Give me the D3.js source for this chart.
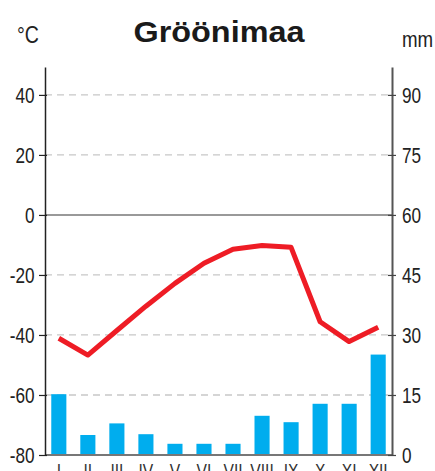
<!DOCTYPE html>
<html>
<head>
<meta charset="utf-8">
<script src="https://cdn.jsdelivr.net/npm/d3@7"></script>
<style>
  html, body { margin: 0; padding: 0; background: #fff; }
  svg { display: block; }
  text { font-family: "Liberation Sans", Arial, sans-serif; }
</style>
</head>
<body>
<svg id="chart" width="435" height="471"></svg>
<script>
// ---- data ----
const title = "Gröönimaa";
const months = ["I","II","III","IV","V","VI","VII","VIII","IX","X","XI","XII"];
const temperature = [-41.1, -46.7, -38.5, -30.4, -22.8, -16.1, -11.4, -10.2, -10.8, -35.6, -42.2, -37.4];
const precipitation = [15.2, 5.0, 7.9, 5.2, 2.8, 2.8, 2.8, 9.8, 8.2, 12.8, 12.8, 25.1];
const tempTicks = [-80, -60, -40, -20, 0, 20, 40];
const precTicks = [0, 15, 30, 45, 60, 75, 90];
const tempDomain = [-80, 49.3];
const precDomain = [0, 96.975];

// ---- layout ----
const svg = d3.select("#chart");
const mLeft = 45, mRight = 392, mBottom = 455, mTop = 67;
const sx = 0.78; // horizontal condensing of the label font

const x = d3.scaleBand().domain(months).range([mLeft, mRight]).paddingInner(0.48).paddingOuter(0.216);
const yT = d3.scaleLinear().domain(tempDomain).range([mBottom, mTop]);
const yP = d3.scaleLinear().domain(precDomain).range([mBottom, mTop]);

// gridlines
svg.append("g").selectAll("line")
  .data(tempTicks.filter(t => t !== 0 && t !== -80))
  .join("line")
  .attr("x1", mLeft).attr("x2", mRight)
  .attr("y1", d => yT(d)).attr("y2", d => yT(d))
  .attr("stroke", "#c8c8c8").attr("stroke-width", 1.3)
  .attr("stroke-dasharray", "7,5");

// zero line
svg.append("line")
  .attr("x1", mLeft).attr("x2", mRight)
  .attr("y1", yT(0)).attr("y2", yT(0))
  .attr("stroke", "#777").attr("stroke-width", 1.5);

// bars
svg.append("g").selectAll("rect")
  .data(months.map((m, i) => ({m, v: precipitation[i]})))
  .join("rect")
  .attr("x", d => x(d.m))
  .attr("width", x.bandwidth())
  .attr("y", d => yP(d.v))
  .attr("height", d => yP(0) - yP(d.v))
  .attr("fill", "#00adee");

// bottom baseline
svg.append("line")
  .attr("x1", mLeft).attr("x2", mRight)
  .attr("y1", yT(-80)).attr("y2", yT(-80))
  .attr("stroke", "#777").attr("stroke-width", 2);

// temperature line
const line = d3.line()
  .x((d, i) => x(months[i]) + x.bandwidth() / 2)
  .y(d => yT(d));
svg.append("path")
  .datum(temperature)
  .attr("d", line)
  .attr("fill", "none")
  .attr("stroke", "#ee1c25")
  .attr("stroke-width", 5)
  .attr("stroke-linejoin", "round");

// left axis
const axL = svg.append("g")
  .attr("transform", `translate(${mLeft},0)`)
  .call(d3.axisLeft(yT).tickValues(tempTicks).tickFormat(d => String(d))
    .tickSize(6).tickPadding(4).tickSizeOuter(0));
axL.select(".domain").attr("stroke", "#222").attr("stroke-width", 1.5);
axL.selectAll(".tick line").attr("stroke", "#222").attr("stroke-width", 1.2).attr("x2", -6).attr("x1", 2);
axL.selectAll(".tick text")
  .style("font-size", "22px").attr("fill", "#222").attr("dy", "0.36em")
  .attr("x", -10.5 / sx)
  .attr("transform", `scale(${sx},1)`);

// right axis
const axR = svg.append("g")
  .attr("transform", `translate(${mRight},0)`)
  .call(d3.axisRight(yP).tickValues(precTicks).tickFormat(d => String(d))
    .tickSize(4).tickPadding(6).tickSizeOuter(0));
axR.select(".domain").attr("stroke", "#555").attr("stroke-width", 2);
axR.selectAll(".tick line").attr("stroke", "#444").attr("stroke-width", 1.2).attr("x1", -4).attr("x2", 4);
axR.selectAll(".tick text")
  .style("font-size", "22px").attr("fill", "#222").attr("dy", "0.36em")
  .attr("x", 10 / sx)
  .attr("transform", `scale(${sx},1)`);

// month labels
svg.append("g").selectAll("text")
  .data(months)
  .join("text")
  .attr("x", d => (x(d) + x.bandwidth() / 2) / sx)
  .attr("y", 478)
  .attr("transform", `scale(${sx},1)`)
  .attr("text-anchor", "middle")
  .style("font-size", "20px")
  .attr("fill", "#333")
  .text(d => d);

// title and units
svg.append("text")
  .attr("x", 219).attr("y", 42)
  .attr("text-anchor", "middle")
  .style("font-weight", "bold")
  .style("font-size", "30px")
  .attr("textLength", 171).attr("lengthAdjust", "spacingAndGlyphs")
  .attr("fill", "#1a1a1a")
  .text(title);

svg.append("text")
  .attr("x", 17 / 0.85).attr("y", 43)
  .attr("transform", "scale(0.85,1)")
  .style("font-size", "23px").attr("fill", "#222")
  .text("°C");

svg.append("text")
  .attr("x", 402 / 0.85).attr("y", 47)
  .attr("transform", "scale(0.85,1)")
  .style("font-size", "22px").attr("fill", "#222")
  .text("mm");
</script>
</body>
</html>
